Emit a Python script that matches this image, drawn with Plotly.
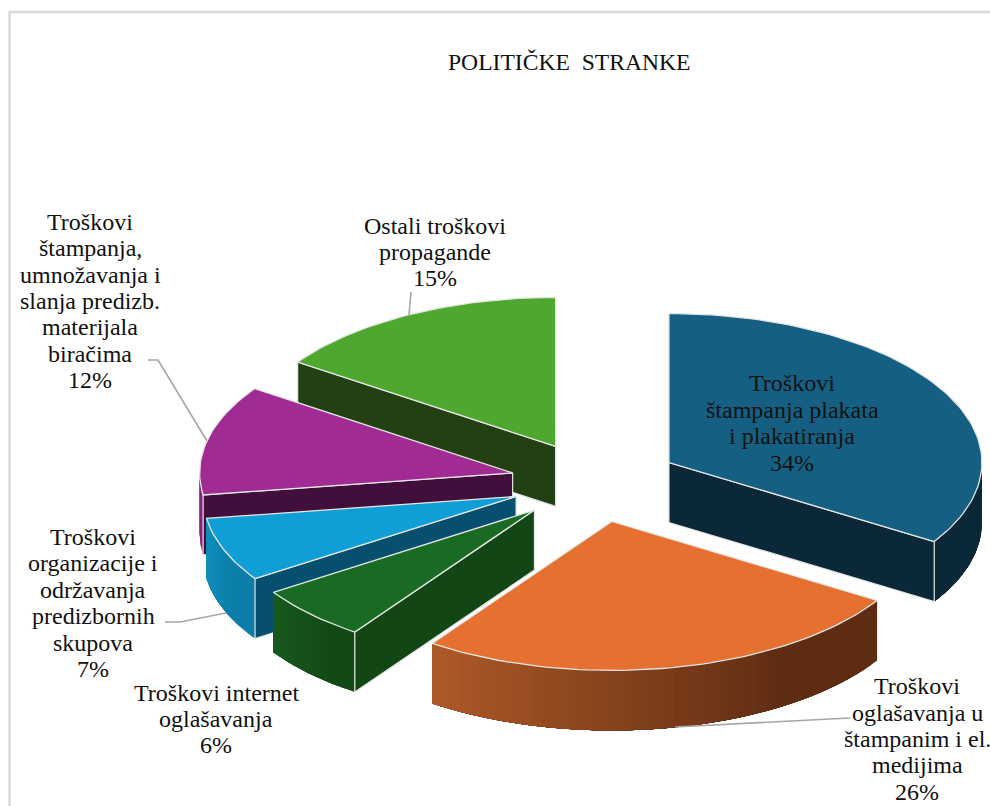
import plotly.graph_objects as go
import math

# ---- data ----
CATEGORIES = [
    "Troškovi<br>štampanja plakata<br>i plakatiranja",
    "Troškovi<br>oglašavanja u<br>štampanim i el.<br>medijima",
    "Troškovi internet<br>oglašavanja",
    "Troškovi<br>organizacije i<br>održavanja<br>predizbornih<br>skupova",
    "Troškovi<br>štampanja,<br>umnožavanja i<br>slanja predizb.<br>materijala<br>biračima",
    "Ostali troškovi<br>propagande",
]
VALUES = [33.9, 25.83, 5.97, 6.94, 11.94, 15.42]
TITLE = "POLITIČKE  STRANKE"

# ---- style ----
TOP_COLORS = ["#156082", "#E6702F", "#196B24", "#0F9ED5", "#A02B93", "#4EA72E"]
CUT_COLORS = ["#0A2838", "#5E2C12", "#124715", "#064F6E", "#400F3B", "#224012"]
WALL_FROM = ["#0A2838", "#AF5A28", "#17591F", "#0F8EBE", "#7A2070", "#224012"]
WALL_TO = ["#0A2838", "#5E2C12", "#124A16", "#0C7CA8", "#8A2480", "#224012"]
EDGE = "#E4E6E4"
LEADER = "#A6A6A6"
FONT = "Liberation Serif"
FONT_SIZE = 24
TITLE_SIZE = 23.6
LINE_PITCH = 26.4

# ---- projection of the tilted pie, in axis units ----
CX, CY = 595, 482
RX, RY = 313, 149
DEPTH = 60
EXPLODE = 0.27

LABEL_POS = [(792, 423), (917, 739), (216, 719), (93, 603), (90, 301), (435, 252)]
LEADERS = [
    None,
    [(850, 718), (675, 727)],
    None,
    [(165, 622), (180, 622), (226, 613)],
    [(148, 360), (158, 360), (207, 441)],
    [(411, 292), (409, 315)],
]


def point(ax, ay, deg, r=1.0):
    t = math.radians(deg)
    return ax + RX * r * math.sin(t), ay - RY * r * math.cos(t)


def mix(c1, c2, f):
    a = [int(c1[i:i + 2], 16) for i in (1, 3, 5)]
    b = [int(c2[i:i + 2], 16) for i in (1, 3, 5)]
    return "#%02X%02X%02X" % tuple(round(p + (q - p) * f) for p, q in zip(a, b))


def poly(pts, fill, line=None, width=0.0):
    xs = [p[0] for p in pts] + [pts[0][0]]
    ys = [p[1] for p in pts] + [pts[0][1]]
    return go.Scatter(
        x=xs, y=ys, mode="lines", fill="toself", fillcolor=fill,
        line=dict(color=line or fill, width=width if line else 0),
        hoverinfo="skip", showlegend=False,
    )


total = sum(VALUES)
angles = [0.0]
for v in VALUES:
    angles.append(angles[-1] + v / total * 360)

fig = go.Figure()

for i in reversed(range(len(VALUES))):
    a, b = angles[i], angles[i + 1]
    mid = (a + b) / 2
    ax, ay = point(CX, CY, mid, EXPLODE)
    n = max(2, int((b - a) / 1.5))
    arc = [point(ax, ay, a + (b - a) * k / n) for k in range(n + 1)]

    # outer wall: the part of the rim that faces the viewer.
    # Strips are painted right to left, each one running under-lapped to the far end,
    # so that no seams show between neighbours.
    lo, hi = max(a, 90), min(b, 270)
    if hi > lo:
        steps = max(2, int((hi - lo) / 2))
        for k in range(steps):
            t0 = lo + (hi - lo) * k / steps
            ts = [t0 + (hi - t0) * j / 40 for j in range(41)]
            top = [point(ax, ay, t) for t in ts]
            bottom = [(x, y + DEPTH) for x, y in reversed(top)]
            # gradient runs left (from) to right (to) across the wall
            f = min(1.0, (steps - k - 0.5) / steps * 1.35)
            fig.add_trace(poly(top + bottom, mix(WALL_FROM[i], WALL_TO[i], f)))

    # cut faces that face the viewer
    if math.sin(math.radians(a)) < -1e-6:
        p = point(ax, ay, a)
        fig.add_trace(poly(
            [(ax, ay), p, (p[0], p[1] + DEPTH), (ax, ay + DEPTH)],
            CUT_COLORS[i], EDGE, 1.2,
        ))
    if math.sin(math.radians(b)) > 1e-6:
        p = point(ax, ay, b)
        fig.add_trace(poly(
            [(ax, ay), p, (p[0], p[1] + DEPTH), (ax, ay + DEPTH)],
            CUT_COLORS[i], EDGE, 1.2,
        ))

    # top face
    fig.add_trace(poly([(ax, ay)] + arc, TOP_COLORS[i], EDGE, 1.3))

for seg in LEADERS:
    if seg:
        fig.add_trace(go.Scatter(
            x=[p[0] for p in seg], y=[p[1] for p in seg], mode="lines",
            line=dict(color=LEADER, width=1.6), hoverinfo="skip", showlegend=False,
        ))

annotations = []
for cat, val, pos in zip(CATEGORIES, VALUES, LABEL_POS):
    lines = cat.split("<br>") + [f"{round(val / total * 100)}%"]
    for k, text in enumerate(lines):
        annotations.append(dict(
            x=pos[0], y=pos[1] + (k - (len(lines) - 1) / 2) * LINE_PITCH,
            xref="x", yref="y", showarrow=False, text=text,
            xanchor="center", yanchor="middle", align="center",
            font=dict(family=FONT, size=FONT_SIZE, color="#111111"),
        ))
annotations.append(dict(
    x=569, y=62, xref="x", yref="y", showarrow=False, text=TITLE,
    xanchor="center", yanchor="middle",
    font=dict(family=FONT, size=TITLE_SIZE, color="#111111"),
))

fig.update_layout(
    width=990, height=806, margin=dict(l=0, r=0, t=0, b=0),
    paper_bgcolor="white", plot_bgcolor="white", showlegend=False,
    xaxis=dict(range=[0, 990], visible=False, fixedrange=True),
    yaxis=dict(range=[806, 0], visible=False, fixedrange=True),
    annotations=annotations,
    shapes=[dict(
        type="path", path="M 9.5 806 L 9.5 12 L 990 12", xref="x", yref="y",
        line=dict(color="#D9D9D9", width=2.5),
    )],
)

fig.write_html(
    "out.html",
    config={"displayModeBar": False},
    post_script="document.body.style.margin='0';document.body.style.overflow='hidden';",
)
